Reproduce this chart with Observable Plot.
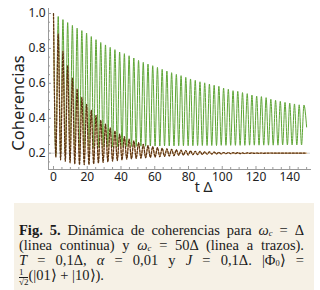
<!DOCTYPE html>
<html>
<head>
<meta charset="utf-8">
<script src="https://cdn.jsdelivr.net/npm/d3@7"></script>
<script src="https://cdn.jsdelivr.net/npm/@observablehq/plot@0.6"></script>
<style>
  html, body { margin: 0; padding: 0; background: #fff; width: 320px; height: 290px; overflow: hidden; }
  #chart { position: absolute; left: 0; top: 0; }
  #caption {
    position: absolute; left: 14px; top: 203px; width: 300px; height: 87px;
    background: #f6f1e6; box-sizing: border-box; padding: 20px 10px 0 5px;
    font-family: "Liberation Serif", serif; font-size: 14.5px; line-height: 15px; color: #1a1a1a;
  }
  #caption .ln { text-align: justify; text-align-last: justify; white-space: nowrap; }
  #caption .last { text-align: left; text-align-last: left; }
  #caption i { font-style: italic; }
  #caption sub { font-size: 8.5px; vertical-align: -1px; line-height: 0; }
  .frac { display: inline-block; vertical-align: -5px; text-align: center; font-size: 9px; line-height: 9px; }
  .frac span { display: block; }
  .frac .den { border-top: 0.8px solid #1a1a1a; }
</style>
</head>
<body>
<div id="chart"></div>
<div id="caption">
  <div class="ln"><b>Fig. 5.</b> Dinámica de coherencias para <i>ω<sub>c</sub></i> = Δ</div>
  <div class="ln">(linea continua) y <i>ω<sub>c</sub></i> = 50Δ (linea a trazos).</div>
  <div class="ln"><i>T</i> = 0,1Δ, <i>α</i> = 0,01 y <i>J</i> = 0,1Δ. |Φ<sub>0</sub>⟩ =</div>
  <div class="ln last"><span class="frac"><span>1</span><span class="den">√2</span></span>(|01⟩ + |10⟩).</div>
</div>
<script>
// ---- data ----
const period = 2.8;          // oscillation period in t·Δ
const tEnd = 150;
const greenPeaks = [
  1.0, 0.983, 0.965, 0.948, 0.932, 0.916, 0.902, 0.888, 0.868, 0.85,
  0.834, 0.82, 0.806, 0.793, 0.779, 0.77, 0.758, 0.745, 0.731, 0.72,
  0.71, 0.701, 0.691, 0.68, 0.67, 0.661, 0.651, 0.644, 0.634, 0.625,
  0.617, 0.609, 0.603, 0.596, 0.589, 0.583, 0.573, 0.566, 0.558, 0.554,
  0.547, 0.541, 0.533, 0.527, 0.524, 0.518, 0.509, 0.503, 0.497, 0.491,
  0.487, 0.482, 0.477, 0.476
];
const greenTroughs = [
  0.19, 0.2, 0.208, 0.214, 0.219, 0.223, 0.226, 0.229, 0.231, 0.233,
  0.234, 0.235, 0.236, 0.237, 0.238, 0.238, 0.239, 0.239, 0.24, 0.24,
  0.241, 0.241, 0.241, 0.242, 0.242, 0.242, 0.243, 0.243, 0.243, 0.243,
  0.244, 0.244, 0.244, 0.244, 0.244, 0.245, 0.245, 0.245, 0.245, 0.245,
  0.245, 0.246, 0.246, 0.246, 0.246, 0.246, 0.246, 0.246, 0.247, 0.247,
  0.247, 0.247, 0.247
];
const greenEnd = 0.35;
const brownPeaks = [
  1.0, 0.884, 0.785, 0.70, 0.63, 0.568, 0.52, 0.48, 0.446, 0.417,
  0.39, 0.366, 0.345, 0.327, 0.31, 0.295, 0.281, 0.27, 0.26, 0.251,
  0.243, 0.237, 0.232, 0.228, 0.225, 0.222, 0.219, 0.217, 0.215, 0.213,
  0.211, 0.21, 0.208, 0.207, 0.206, 0.205, 0.204, 0.204, 0.203, 0.203,
  0.202, 0.202, 0.202, 0.201, 0.201, 0.201, 0.201, 0.2, 0.2, 0.2,
  0.2, 0.2, 0.2, 0.2
];
const brownTroughs = [
  0.178, 0.162, 0.153, 0.145, 0.139, 0.134, 0.134, 0.135, 0.139, 0.143,
  0.147, 0.151, 0.154, 0.158, 0.162, 0.166, 0.168, 0.17, 0.171, 0.174,
  0.176, 0.178, 0.18, 0.182, 0.184, 0.186, 0.188, 0.189, 0.19, 0.191,
  0.192, 0.193, 0.194, 0.195, 0.196, 0.196, 0.197, 0.197, 0.198, 0.198,
  0.198, 0.199, 0.199, 0.199, 0.199, 0.2, 0.2, 0.2, 0.2, 0.2,
  0.2, 0.2, 0.2
];
const brownEnd = 0.2;
const xTicks = [0, 20, 40, 60, 80, 100, 120, 140];
const xMinorTicks = [5, 10, 15, 25, 30, 35, 45, 50, 55, 65, 70, 75, 85, 90, 95, 105, 110, 115, 125, 130, 135, 145, 150];
const yTicks = [0.2, 0.4, 0.6, 0.8, 1.0];
const yTickLabels = ["0.2", "0.4", "0.6", "0.8", "1.0"];
const yMinorTicks = [0.15, 0.25, 0.3, 0.35, 0.45, 0.5, 0.55, 0.65, 0.7, 0.75, 0.85, 0.9, 0.95];
const asymptote = [0.2];
const yLabel = "Coherencias";
const xLabel = "t Δ";

function series(peaks, troughs, endVal) {
  const out = [];
  peaks.forEach((v, k) => {
    out.push({t: k * period, v});
    if (k < troughs.length) out.push({t: (k + 0.5) * period, v: troughs[k]});
  });
  out.push({t: tEnd, v: endVal});
  return out;
}
const green = series(greenPeaks, greenTroughs, greenEnd);
const brown = series(brownPeaks, brownTroughs, brownEnd);

const W = 320, H = 200, mL = 48, mR = 10, mT = 8, mB = 31;
const innerW = W - mL - mR, innerH = H - mT - mB;
const axisColor = "#9a9a9a";

const chart = Plot.plot({
  width: W, height: H,
  marginLeft: mL, marginRight: mR, marginTop: mT, marginBottom: mB,
  x: {domain: [-2.96, 152.3]},
  y: {domain: [0.1066, 1.0286]},
  style: {fontFamily: "'Noto Sans', 'Open Sans', sans-serif", fontSize: "12px", color: "#222", background: "transparent"},
  marks: [
    Plot.ruleY(asymptote, {stroke: "#cfcfcf", strokeWidth: 1}),
    Plot.line(green, {x: "t", y: "v", stroke: "#5ea535", strokeWidth: 1, curve: "monotone-x"}),
    Plot.line(brown, {x: "t", y: "v", stroke: "#dcb27f", strokeWidth: 1.2, curve: "monotone-x"}),
    Plot.line(brown, {x: "t", y: "v", stroke: "#5a3413", strokeWidth: 1.2, strokeDasharray: "2,1.6", curve: "monotone-x"}),
    Plot.frame({anchor: "left", stroke: axisColor}),
    Plot.frame({anchor: "bottom", stroke: axisColor}),
    Plot.ruleX(xTicks, {stroke: axisColor, insetTop: innerH - 3}),
    Plot.ruleX(xMinorTicks, {stroke: axisColor, insetTop: innerH - 2}),
    Plot.ruleY(yTicks, {stroke: axisColor, insetRight: innerW - 3}),
    Plot.ruleY(yMinorTicks, {stroke: axisColor, insetRight: innerW - 2}),
    Plot.axisX(xTicks, {tickSize: 0, tickPadding: 3, label: null, fill: "#222"}),
    Plot.axisY(yTicks, {tickSize: 0, tickPadding: 3, label: null, fill: "#222",
      tickFormat: (d, i) => yTickLabels[i]}),
    Plot.text([yLabel], {frameAnchor: "left", textAnchor: "middle", dx: -30, dy: 14, rotate: -90, fontSize: 16.5, fill: "#222"}),
    Plot.text([xLabel], {frameAnchor: "bottom", textAnchor: "middle", dx: 24, dy: 22, fontSize: 14, fill: "#222"})
  ]
});
document.getElementById("chart").appendChild(chart);
</script>
</body>
</html>
